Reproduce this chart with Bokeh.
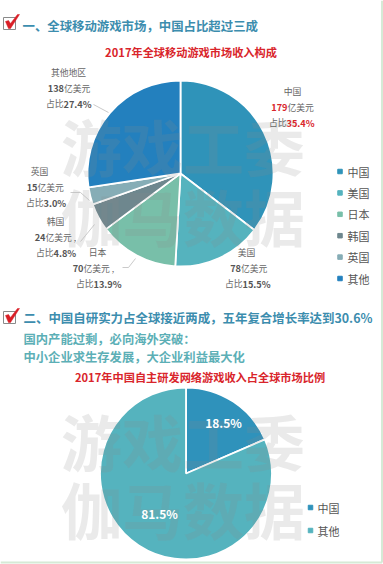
import math
from bokeh.plotting import figure
from bokeh.embed import file_html
from bokeh.resources import INLINE
from bokeh.core.properties import value

W, H = 383, 564
FONT = "Noto Sans CJK SC"

# data
markets = ["中国", "美国", "日本", "韩国", "英国", "其他"]
market_label = ["中国", "美国", "日本", "韩国", "英国", "其他地区"]
revenue = [179, 78, 70, 24, 15, 138]
share = [35.4, 15.5, 13.9, 4.8, 3.0, 27.4]
market_colors = ["#2F93B9", "#55B3BE", "#78BFA9", "#6E878E", "#86ADB6", "#2380BE"]
own_names = ["中国", "其他"]
own_share = [18.5, 81.5]
own_colors = ["#2F92BB", "#55B3BE"]

heading1 = "一、全球移动游戏市场，中国占比超过三成"
title1 = "2017年全球移动游戏市场收入构成"
heading2 = "二、中国自研实力占全球接近两成，五年复合增长率达到30.6%"
sub1 = "国内产能过剩，必向海外突破："
sub2 = "中小企业求生存发展，大企业利益最大化"
title2 = "2017年中国自主研发网络游戏收入占全球市场比例"
watermark1 = "游戏工委"
watermark2 = "伽马数据"

p = figure(width=W, height=H, x_range=(0, W), y_range=(0, H),
           output_backend="svg", toolbar_location=None, min_border=0,
           background_fill_color="white", border_fill_color="white",
           styles={"position": "absolute", "left": "0px", "top": "0px"})
p.axis.visible = False
p.grid.visible = False
p.outline_line_color = None


def Y(v):
    return H - v


def txt(x, y, s, size, color="#555555", bold=False, align="left", alpha=1.0):
    p.text([x], [Y(y)], text=[s], text_font=value(FONT), text_font_size=f"{size}px",
           text_color=color, text_font_style="bold" if bold else "normal",
           text_align=align, text_baseline="middle", text_alpha=alpha)


def pie(cx, cy, r, vals, cols):
    total = 0.0
    for v, c in zip(vals, cols):
        a0 = math.pi / 2 - 2 * math.pi * (total + v) / 100
        a1 = math.pi / 2 - 2 * math.pi * total / 100
        p.wedge([cx], [Y(cy)], radius=r, start_angle=a0, end_angle=a1,
                fill_color=c, line_color="white", line_width=1.8)
        total += v


def check(x, y):
    p.line([x, x + 12, x + 12, x, x], [Y(y), Y(y), Y(y + 12), Y(y + 12), Y(y)],
           line_color="#8A8A8A", line_width=1)
    p.patch([x + 2, x + 5, x + 7, x + 14, x + 16, x + 7, x + 5],
            [Y(y + 4), Y(y + 3), Y(y + 6), Y(y - 3), Y(y - 3), Y(y + 11), Y(y + 11)],
            fill_color="#D91F26", line_color="#D91F26", line_width=0.5)


# page frame
p.line([381.5, 381.5], [Y(0), Y(562)], line_color="#D6EAD6", line_width=2)
p.line([0, 381.5], [Y(562), Y(562)], line_color="#D6EAD6", line_width=2)

# section 1
check(3, 17)
txt(22, 25, heading1, 12.4, "#3C8DAE", True)
txt(190.5, 51, title1, 11.2, "#D9252B", True, "center")
pie(180, 173, 93, share, market_colors)

# section 2
check(3, 311)
txt(23, 317, heading2, 12.45, "#3C8DAE", True)
txt(23, 338, sub1, 12.3, "#5CAFB6", True)
txt(23, 356, sub2, 12.3, "#5CAFB6", True)
txt(199.5, 376, title2, 11.2, "#D9252B", True, "center")
pie(185.5, 473, 86, own_share, own_colors)

# watermark
WM = "#8C8C8C"
for text, y in [(watermark1, 145), (watermark2, 215), (watermark1, 440), (watermark2, 508)]:
    txt(182.5, y, text, 61, WM, True, "center", 0.18)

# leader lines
for xs, ys in [((93, 108), (104, 112)), ((70, 80, 89), (192, 192, 200)),
               ((80, 85, 94), (241, 235, 224)), ((122, 128, 135), (267, 267, 258))]:
    p.line(list(xs), [Y(v) for v in ys], line_color="#BDBDBD", line_width=0.8)

# market data labels: (name x, name y, revenue split x, share split x)
slots = [(292, 91, 287, 286), (246, 252, 240.5, 242), (97, 252, 83, 93),
         (55, 221, 45, 53), (39, 171, 37, 43), (68, 72, 63.5, 63)]
LBL = 8.8
for i, (nx, ny, sr, ss) in enumerate(slots):
    hot = i == 0
    row2, row3 = ny + 16, ny + 31
    txt(nx, ny, market_label[i], LBL, "#666666", False, "center")
    txt(sr, row2, str(revenue[i]), 9.2, "#D9252B" if hot else "#555555", True, "right")
    txt(sr, row2, "亿美元" + (" ," if i in (2, 3) else ""), LBL, "#666666")
    txt(ss, row3, "占比", LBL, "#666666", False, "right")
    txt(ss, row3, f"{share[i]:.1f}%", 9.2, "#D9252B" if hot else "#555555", True)

# pie values
txt(223, 422, f"{own_share[0]}%", 12, "white", True, "center")
txt(159, 513, f"{own_share[1]}%", 12, "white", True, "center")

# legends
for i, (name, col) in enumerate(zip(markets, market_colors)):
    y = 171 + i * 21.4
    p.scatter([339.5], [Y(y)], marker="square", size=4.5, fill_color=col, line_color=col)
    txt(347, y, name, 11, "#555555")
for i, (name, col) in enumerate(zip(own_names, own_colors)):
    y = 507 + i * 23
    p.scatter([310], [Y(y)], marker="square", size=4.5, fill_color=col, line_color=col)
    txt(317, y, name, 11, "#555555")

open("out.html", "w").write(file_html(p, INLINE))
